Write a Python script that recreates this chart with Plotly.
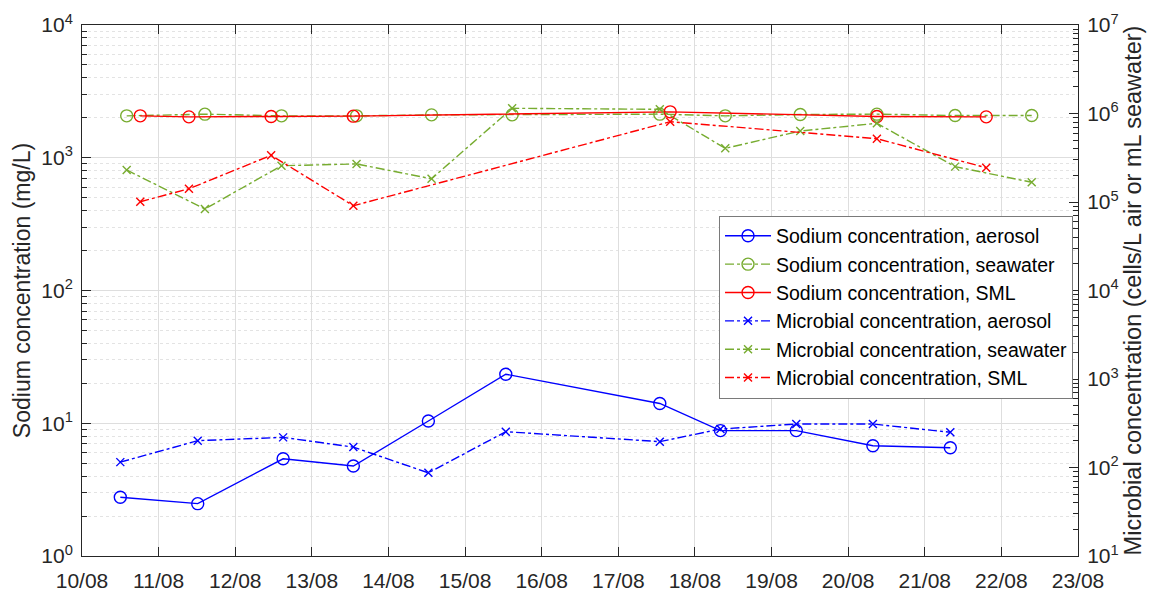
import plotly.graph_objects as go

# ---- data ----
aerosol_dates = ["2021-08-10 12:00", "2021-08-11 12:15", "2021-08-12 15:00", "2021-08-13 13:00",
                 "2021-08-14 12:30", "2021-08-15 12:45", "2021-08-17 13:00", "2021-08-18 08:00",
                 "2021-08-19 07:45", "2021-08-20 07:45", "2021-08-21 08:00"]
sodium_aerosol = [2.77, 2.48, 5.40, 4.76, 10.4, 23.4, 14.1, 8.8, 8.8, 6.77, 6.54]
microbial_aerosol = [115, 201, 219, 170, 87, 254, 196, 272, 310, 310, 250]

seawater_dates = ["2021-08-10 14:00", "2021-08-11 14:30", "2021-08-12 14:30", "2021-08-13 14:00",
                  "2021-08-14 13:30", "2021-08-15 14:45", "2021-08-17 13:00", "2021-08-18 09:30",
                  "2021-08-19 09:00", "2021-08-20 09:00", "2021-08-21 09:30", "2021-08-22 09:30"]
sodium_seawater = [2068, 2130, 2068, 2068, 2104, 2104, 2130, 2068, 2118, 2130, 2081, 2081]
microbial_seawater = [230000, 83400, 257000, 269000, 183000, 1145000, 1115000, 404000,
                      634000, 775000, 251000, 167000]

sml_dates = ["2021-08-10 18:15", "2021-08-11 09:30", "2021-08-12 11:15", "2021-08-13 13:00",
             "2021-08-17 16:15", "2021-08-20 09:00", "2021-08-21 19:15"]
sodium_sml = [2068, 2032, 2047, 2057, 2217, 2047, 2032]
microbial_sml = [100700, 141000, 337000, 90800, 808000, 519000, 244000]

left_tickvals = [1, 10, 100, 1000, 10000]
left_ticktext = ["10<sup>0</sup>", "10<sup>1</sup>", "10<sup>2</sup>", "10<sup>3</sup>", "10<sup>4</sup>"]
right_tickvals = [10, 100, 1e3, 1e4, 1e5, 1e6, 1e7]
right_ticktext = ["10<sup>1</sup>", "10<sup>2</sup>", "10<sup>3</sup>", "10<sup>4</sup>",
                  "10<sup>5</sup>", "10<sup>6</sup>", "10<sup>7</sup>"]

BLUE = "#0000FF"
GREEN = "#77AC30"
RED = "#FF0000"

fig = go.Figure()

def add(x, y, name, color, dash, symbol, msize, axis):
    fig.add_trace(go.Scatter(
        x=x, y=y, name=name, mode="lines+markers", yaxis=axis,
        line=dict(color=color, width=1.4, dash=dash),
        marker=dict(symbol=symbol, size=msize, color=color,
                    line=dict(color=color, width=1.4)),
    ))

add(aerosol_dates, sodium_aerosol, "Sodium concentration, aerosol", BLUE, "solid", "circle-open", 12, "y")
add(seawater_dates, sodium_seawater, "Sodium concentration, seawater", GREEN, "dashdot", "circle-open", 12, "y")
add(sml_dates, sodium_sml, "Sodium concentration, SML", RED, "solid", "circle-open", 12, "y")
add(aerosol_dates, microbial_aerosol, "Microbial concentration, aerosol", BLUE, "dashdot", "x-thin-open", 8, "y2")
add(seawater_dates, microbial_seawater, "Microbial concentration, seawater", GREEN, "dashdot", "x-thin-open", 8, "y2")
add(sml_dates, microbial_sml, "Microbial concentration, SML", RED, "dashdot", "x-thin-open", 8, "y2")

minor_left = [m * 10 ** e for e in range(0, 4) for m in range(2, 10)]
minor_right = [m * 10 ** e for e in range(1, 7) for m in range(2, 10)]

AXC = "#262626"
FONT = "Liberation Sans, Arial, sans-serif"

fig.update_layout(
    width=1159, height=591,
    margin=dict(l=82, r=81, t=25, b=35),
    paper_bgcolor="white", plot_bgcolor="white",
    font=dict(family=FONT, size=21, color="#262626"),
    showlegend=True,
    legend=dict(x=0.995, y=0.641, xanchor="right", yanchor="top",
                bgcolor="white", bordercolor="#7a7a7a", borderwidth=1,
                font=dict(size=19.5, color="black"), tracegroupgap=0,
                itemwidth=46),
    xaxis=dict(
        type="date", range=["2021-08-10", "2021-08-23"], automargin=False,
        dtick=86400000, tick0="2021-08-10", tickformat="%d/%m",
        showgrid=True, gridcolor="#dedede", gridwidth=1,
        showline=True, linecolor=AXC, linewidth=1, mirror="ticks",
        ticks="inside", ticklen=9, tickcolor=AXC, ticklabelstandoff=6,
        tickfont=dict(size=21, color="#262626"), zeroline=False,
    ),
    yaxis=dict(
        type="log", range=[0, 4], automargin=False,
        tickvals=left_tickvals, ticktext=left_ticktext,
        showgrid=True, gridcolor="#dedede", gridwidth=1,
        showline=True, linecolor=AXC, linewidth=1,
        ticks="inside", ticklen=9, tickcolor=AXC, ticklabelstandoff=4,
        tickfont=dict(size=21, color="#262626"),
        minor=dict(tickvals=minor_left, ticks="inside", ticklen=5, tickcolor=AXC,
                   showgrid=True, gridcolor="#e3e3e3", griddash="dot", gridwidth=1),
        title=dict(text="Sodium concentration (mg/L)", font=dict(size=23, color="#262626"), standoff=4),
        zeroline=False,
    ),
    yaxis2=dict(
        type="log", range=[1, 7], overlaying="y", side="right", automargin=False,
        tickvals=right_tickvals, ticktext=right_ticktext,
        showgrid=False,
        showline=True, linecolor=AXC, linewidth=1,
        ticks="inside", ticklen=9, tickcolor=AXC, ticklabelstandoff=4,
        tickfont=dict(size=21, color="#262626"),
        minor=dict(tickvals=minor_right, ticks="inside", ticklen=5, tickcolor=AXC, showgrid=False),
        title=dict(text="Microbial concentration (cells/L air or mL seawater)",
                   font=dict(size=23.5, color="#262626"), standoff=6),
        zeroline=False,
    ),
)

fig.write_html("out.html")
